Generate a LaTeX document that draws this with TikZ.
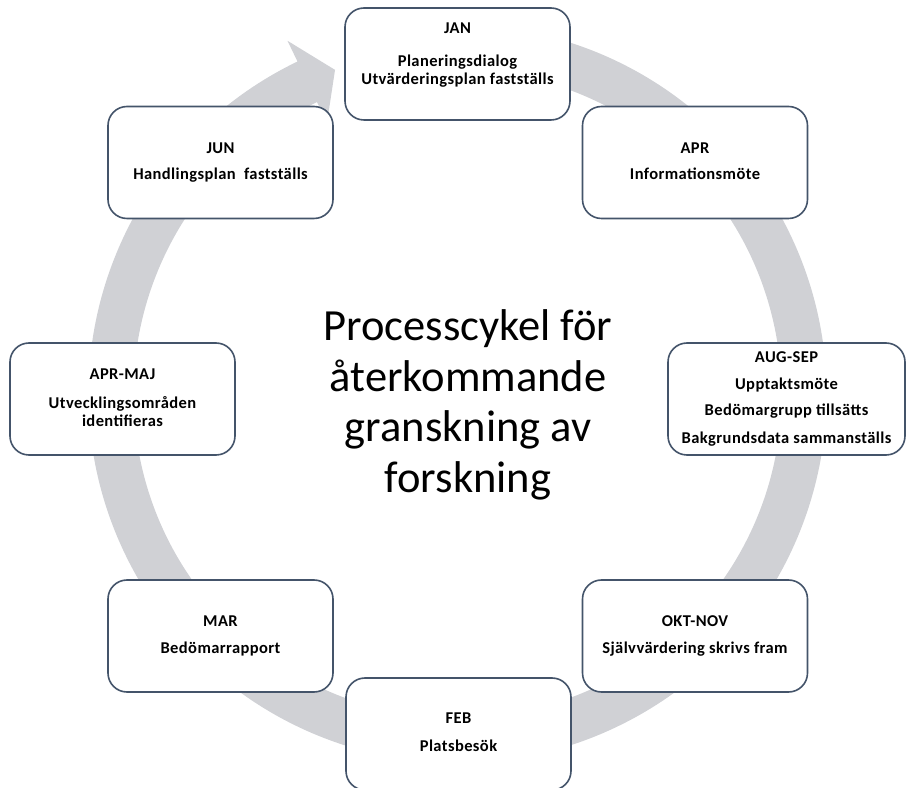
\documentclass[tikz,border=0pt]{standalone}
\usepackage{fontspec}
\setmainfont{Carlito}
\newfontfamily\boxfont[LetterSpace=2.5]{Carlito}
\definecolor{ringgray}{RGB}{208,209,213}
\definecolor{boxline}{RGB}{68,84,106}
\newcommand{\mylines}[1]{\begin{tabular}[t]{@{}c@{}}#1\end{tabular}}
\begin{document}
\begin{tikzpicture}[x=1pt,y=1pt,
  stepbox/.style={draw=boxline, line width=1.6pt, fill=white, rounded corners=19pt,
    minimum width=225pt, minimum height=112pt, inner sep=0pt},
  btxt/.style={font=\boxfont\fontsize{16.5}{18.3}\selectfont\bfseries, anchor=base, inner sep=0pt, text=black},
  ctxt/.style={font=\fontsize{44.5}{50.5}\selectfont, anchor=base, inner sep=0pt, text=black},
]
\useasboundingbox (0,0) rectangle (906,788);
% circular arrow
\begin{scope}[shift={(457.5,394)}]
\fill[ringgray] (115.7:369) arc[start angle=115.7, end angle=460, radius=369]
  -- (460:324) arc[start angle=460, end angle=115.7, radius=324]
  -- (115.7:301) -- (110.7:346.5) -- (115.7:392) -- cycle;
\end{scope}
% boxes
\node[stepbox] (jan) at (457.5,724) {};
\node[stepbox] (apr) at (695,625.5) {};
\node[stepbox, minimum width=237pt] (augsep) at (786.5,389) {};
\node[stepbox] (oktnov) at (695,152) {};
\node[stepbox] (feb) at (458.5,54) {};
\node[stepbox] (mar) at (220.5,152) {};
\node[stepbox] (aprmaj) at (122.5,389) {};
\node[stepbox] (jun) at (220.5,625.5) {};
% texts
\node[btxt] (jant) at (457.5,754) {\mylines{JAN\\[14pt]Planeringsdialog\\Utvärderingsplan fastställs}};
\node[btxt] (aprt) at (695,634) {\mylines{APR\\[7.7pt]Informationsmöte}};
\node[btxt] (augsept) at (786.5,425.3) {\mylines{AUG-SEP\\[9pt]Upptaktsmöte\\[7.7pt]Bedömargrupp tillsätts\\[9pt]Bakgrundsdata sammanställs}};
\node[btxt] (oktnovt) at (695,161) {\mylines{OKT-NOV\\[8.7pt]Självvärdering skrivs fram}};
\node[btxt] (febt) at (458.5,64) {\mylines{FEB\\[9.2pt]Platsbesök}};
\node[btxt] (mart) at (220.5,161) {\mylines{MAR\\[8.7pt]Bedömarrapport}};
\node[btxt] (aprmajt) at (122.5,408) {\mylines{APR-MAJ\\[10pt]Utvecklingsområden\\identifieras}};
\node[btxt] (junt) at (220.5,634) {\mylines{JUN\\[7.7pt]Handlingsplan\ \ fastställs}};
\node[ctxt] (title) at (468,447) {\mylines{Processcykel för\\återkommande\\granskning av\\forskning}};
\end{tikzpicture}
\end{document}
